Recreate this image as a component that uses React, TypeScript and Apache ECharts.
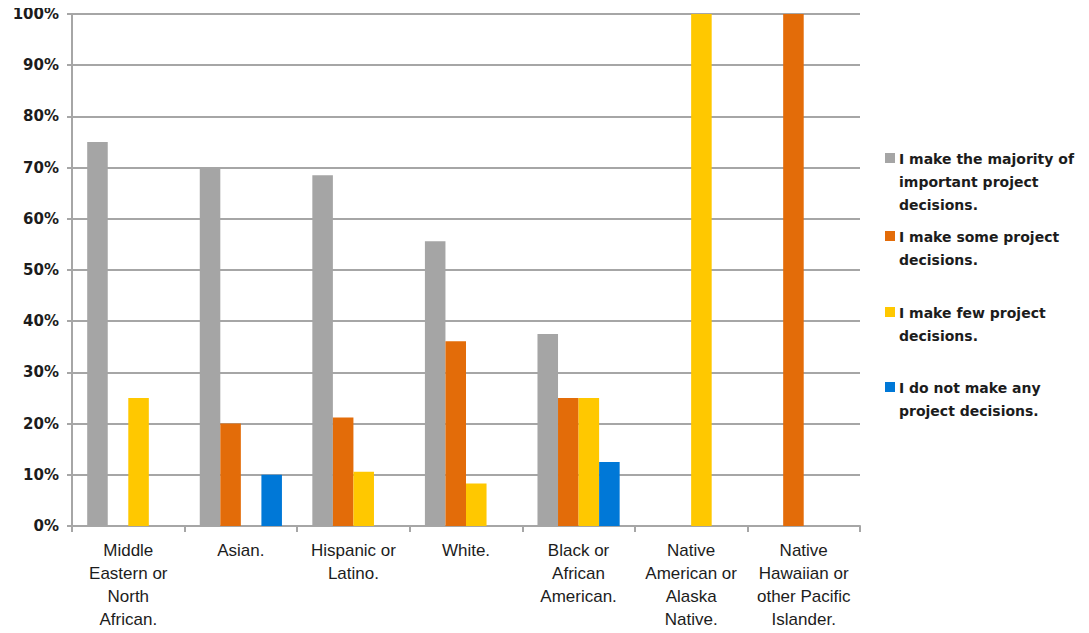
import React, { useEffect, useRef } from "react";
import * as echarts from "echarts";

const categories = [
  "Middle\nEastern or\nNorth\nAfrican.",
  "Asian.",
  "Hispanic or\nLatino.",
  "White.",
  "Black or\nAfrican\nAmerican.",
  "Native\nAmerican or\nAlaska\nNative.",
  "Native\nHawaiian or\nother Pacific\nIslander.",
];

const seriesNames = [
  "I make the majority of\nimportant project\ndecisions.",
  "I make some project\ndecisions.",
  "I make few project\ndecisions.",
  "I do not make any\nproject decisions.",
];

const majority = [75, 70, 68.5, 55.6, 37.5, null, null];
const some = [null, 20, 21.2, 36.1, 25, null, 100];
const few = [25, null, 10.6, 8.3, 25, 100, null];
const none = [null, 10, null, null, 12.5, null, null];

const colors = ["#a5a5a5", "#e36c09", "#ffc800", "#0078d7"];
const legendTops = [159, 237, 313, 388];

export default function App() {
  const ref = useRef<HTMLDivElement>(null);
  useEffect(() => {
    if (!ref.current) return;
    const chart = echarts.init(ref.current, undefined, { renderer: "svg" });
    const data = [majority, some, few, none];
    const textColor = "#1c1c1c";
    const legendGraphics: any[] = [];
    seriesNames.forEach((name, i) => {
      legendGraphics.push({
        type: "rect",
        left: 885,
        top: legendTops[i] - 6,
        shape: { width: 10, height: 10 },
        style: { fill: colors[i] },
      });
      legendGraphics.push({
        type: "text",
        left: 899,
        top: legendTops[i] - 11.5,
        style: {
          text: name,
          fill: textColor,
          font: "bold 14px 'DejaVu Sans'",
          lineHeight: 23,
        },
      });
    });
    chart.setOption({
      animation: false,
      grid: { left: 72, right: 229, top: 14, bottom: 107 },
      xAxis: {
        type: "category",
        data: categories,
        axisLine: { lineStyle: { color: "#a6a6a6", width: 2 } },
        axisTick: { show: true, length: 6, lineStyle: { color: "#a6a6a6", width: 2 } },
        axisLabel: {
          interval: 0,
          margin: 13,
          color: textColor,
          fontFamily: "'Liberation Sans Narrow', 'Liberation Sans', Arial",
          fontSize: 17,
          lineHeight: 23,
        },
      },
      yAxis: {
        type: "value",
        min: 0,
        max: 100,
        interval: 10,
        axisLine: { show: true, lineStyle: { color: "#a6a6a6", width: 2 } },
        axisTick: { show: true, length: 5, lineStyle: { color: "#a6a6a6", width: 2 } },
        splitLine: { lineStyle: { color: "#a6a6a6", width: 2 } },
        axisLabel: {
          formatter: "{value}%",
          margin: 13,
          color: textColor,
          fontFamily: "'DejaVu Sans'",
          fontWeight: "bold",
          fontSize: 15,
        },
      },
      series: data.map((d, i) => ({
        type: "bar",
        name: seriesNames[i],
        data: d,
        itemStyle: { color: colors[i] },
        barGap: "0%",
        barCategoryGap: "27%",
      })),
      graphic: legendGraphics,
    });
    return () => chart.dispose();
  }, []);
  return <div ref={ref} style={{ width: 1089, height: 633, margin: -8 }} />;
}
